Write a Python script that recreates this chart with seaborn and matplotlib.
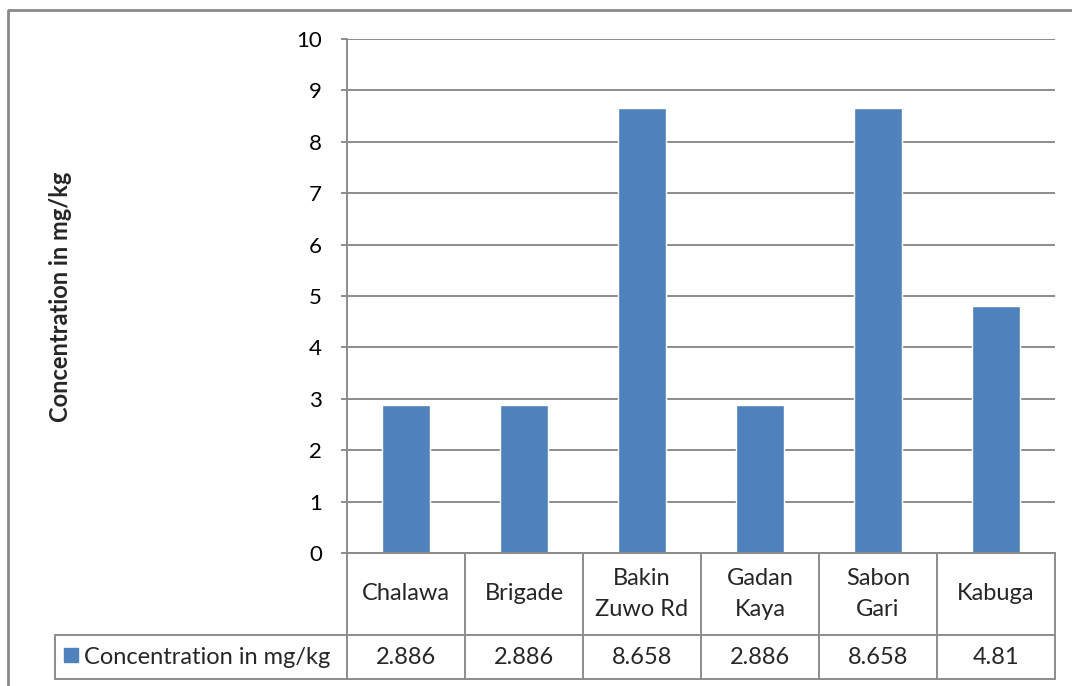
import matplotlib
matplotlib.use("Agg")
import matplotlib.pyplot as plt
import matplotlib.transforms as mtransforms
from matplotlib.lines import Line2D
from matplotlib.patches import Rectangle
import seaborn as sns
import pandas as pd

# Data
sites = ["Chalawa", "Brigade", "Bakin\nZuwo Rd", "Gadan\nKaya", "Sabon\nGari", "Kabuga"]
concentration = [2.886, 2.886, 8.658, 2.886, 8.658, 4.81]
value_labels = ["2.886", "2.886", "8.658", "2.886", "8.658", "4.81"]
series_name = "Concentration in mg/kg"
y_ticks = list(range(0, 11))

BAR = "#4F81BD"
GRID = "#8C8C8C"
FS = 17
TICK_FS = 16

W, H = 1072, 686
sns.set_theme(style="white")
plt.rcParams["font.family"] = ["Lato", "DejaVu Sans"]

fig = plt.figure(figsize=(W / 100, H / 100), dpi=100)


def fx(px):
    return px / W


def fy(py):
    return 1 - py / H


# plot area in pixel units
left, right, top, bottom = 347, 1055, 39, 553
row1, row2 = 635, 679
ax = fig.add_axes([fx(left), fy(bottom), (right - left) / W, (bottom - top) / H])

df = pd.DataFrame({"site": sites, "value": concentration})
sns.barplot(data=df, x="site", y="value", color=BAR, width=0.4,
            saturation=1, ax=ax, zorder=3)

ax.set_xlim(-0.5, len(sites) - 0.5)
ax.set_ylim(0, 10)
ax.set_yticks(y_ticks)
ax.set_yticklabels([str(t) for t in y_ticks], fontsize=TICK_FS, color="black")
ax.set_xticks([])
ax.set_xlabel("")
ax.set_ylabel("")
ax.grid(axis="y", color=GRID, lw=1.4, zorder=0)
ax.set_axisbelow(True)
for s in ["top", "right"]:
    ax.spines[s].set_visible(False)
for s in ["left", "bottom"]:
    ax.spines[s].set_color(GRID)
    ax.spines[s].set_linewidth(1.4)
ax.tick_params(axis="y", left=True, length=4, width=1.4, color=GRID, pad=14)

# data table below the axis
lw = 1.4
col_w = (right - left) / len(sites)
mix = mtransforms.blended_transform_factory(ax.transData, fig.transFigure)


def hline(x0, x1, y):
    fig.add_artist(Line2D([fx(x0), fx(x1)], [fy(y), fy(y)], color=GRID, lw=lw,
                          transform=fig.transFigure))


def vline(x, y0, y1):
    fig.add_artist(Line2D([fx(x), fx(x)], [fy(y0), fy(y1)], color=GRID, lw=lw,
                          transform=fig.transFigure))


hline(left, right, bottom)
hline(55, right, row1)
hline(55, right, row2)
vline(55, row1, row2)
for i in range(len(sites) + 1):
    vline(left + i * col_w, bottom, row2)

for i, (name, lab) in enumerate(zip(sites, value_labels)):
    fig.text(i, fy((bottom + row1) / 2), name, transform=mix, ha="center",
             va="center", fontsize=FS, linespacing=1.6)
    fig.text(i, fy((row1 + row2) / 2), lab, transform=mix, ha="center",
             va="center", fontsize=FS)

# legend key in the table
fig.add_artist(Rectangle((fx(64), fy(662)), 14 / W, 14 / H, color=BAR,
                         transform=fig.transFigure))
fig.text(fx(84), fy((row1 + row2) / 2), series_name, ha="left", va="center",
         fontsize=FS)

# axis title
fig.text(fx(60), fy(297), series_name, rotation=90, ha="center", va="center",
         fontsize=FS, fontweight="bold")

# chart frame
fig.add_artist(Line2D([fx(8), fx(8), fx(W + 5)], [fy(H + 5), fy(10), fy(10)],
                      color="#8A8A8A", lw=2, transform=fig.transFigure))

fig.savefig("out.png", dpi=100)
